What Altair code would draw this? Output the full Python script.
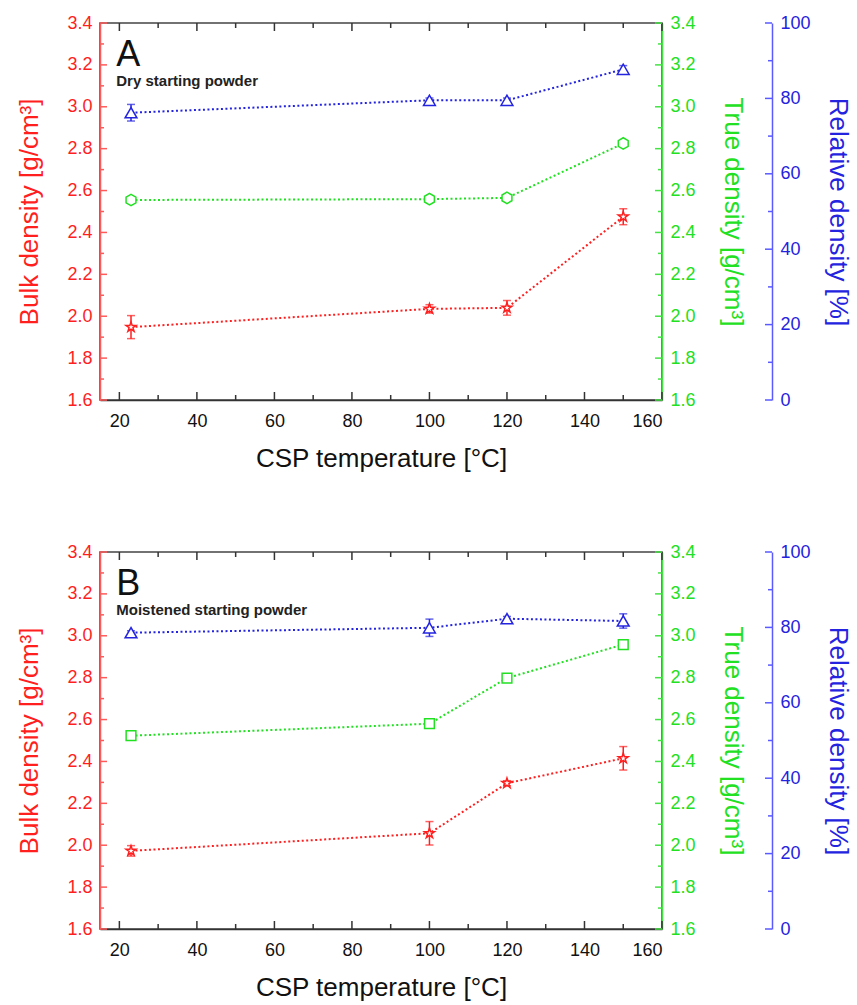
import altair as alt
import pandas as pd

# CSP sintering temperatures [°C]
temps = [23, 100, 120, 150]

# Panel A: dry starting powder
a_bulk = [1.948, 2.035, 2.04, 2.475]
a_bulk_err = [0.055, 0.02, 0.035, 0.038]
a_true = [2.555, 2.559, 2.565, 2.825]
a_rel = [76.2, 79.5, 79.5, 87.7]
a_rel_err = [2.2, 0.6, 0.6, 1.0]

# Panel B: moistened starting powder
b_bulk = [1.973, 2.057, 2.296, 2.415]
b_bulk_err = [0.025, 0.056, 0.012, 0.056]
b_true = [2.523, 2.58, 2.798, 2.958]
b_rel = [78.6, 79.9, 82.3, 81.7]
b_rel_err = [0.5, 2.3, 0.6, 1.9]

# Axis tick positions
x_major = [20, 40, 60, 80, 100, 120, 140, 160]
x_minor = [30, 50, 70, 90, 110, 130, 150]
dens_major = [1.6, 1.8, 2.0, 2.2, 2.4, 2.6, 2.8, 3.0, 3.2, 3.4]
dens_minor = [1.7, 1.9, 2.1, 2.3, 2.5, 2.7, 2.9, 3.1, 3.3]
rel_major = [0, 20, 40, 60, 80, 100]
rel_minor = [10, 30, 50, 70, 90]

W, H = 562, 377
FONT = "Liberation Sans"
RED, RED_AX = "#ff1f1f", "#ff5a5a"
GREEN, GREEN_AX = "#22e022", "#44e444"
BLUE, BLUE_AX = "#2323e0", "#5a5aff"
MAJ, MIN = 7, 4
BLUE_OFFSET = 110
TITLE_SIZE = 26

STAR = ("M0,-1L0.2245,-0.309L0.951,-0.309L0.363,0.118L0.588,0.809L0,0.382"
        "L-0.588,0.809L-0.363,0.118L-0.951,-0.309L-0.2245,-0.309Z")
HEXAGON = "M0,-1L0.866,-0.5L0.866,0.5L0,1L-0.866,0.5L-0.866,-0.5Z"

x_scale = alt.Scale(domain=[15, 160], nice=False, zero=False)
dens_scale = alt.Scale(domain=[1.6, 3.4], nice=False, zero=False)
rel_scale = alt.Scale(domain=[0, 100], nice=False, zero=False)

x_axis = alt.Axis(values=x_major, ticks=False, grid=False, labelFontSize=18,
                  labelColor="#111111", labelPadding=12, domainColor="#333333",
                  domainWidth=1.5, title="CSP temperature [°C]", titleFontSize=TITLE_SIZE,
                  titleFontWeight="normal", titleColor="#111111", titlePadding=15)


def y_axis(orient, color, axis_color, title, values, fmt, offset=0, title_pad=12):
    return alt.Axis(orient=orient, values=values, format=fmt, ticks=False, grid=False,
                    offset=offset, domainColor=axis_color, domainWidth=1.5,
                    labelColor=color, labelFontSize=18, labelPadding=8,
                    title=title, titleColor=color, titleFontSize=TITLE_SIZE,
                    titleFontWeight="normal", titlePadding=title_pad)


def X(field):
    return alt.X(field, scale=x_scale, axis=x_axis)


def tick_rules(values, channel, length, color, scale, axis, side):
    """Inward-pointing axis ticks drawn as short rules."""
    df = pd.DataFrame({"v": values})
    base = alt.Chart(df).mark_rule(color=color, strokeWidth=1.5)
    if channel == "x":
        enc = dict(x=X("v:Q"))
        if side == "bottom":
            enc.update(y=alt.value(H - length), y2=alt.value(H))
        else:
            enc.update(y=alt.value(0), y2=alt.value(length))
    else:
        enc = dict(y=alt.Y("v:Q", scale=scale, axis=axis))
        if side == "left":
            enc.update(x=alt.value(0), x2=alt.value(length))
        elif side == "right":
            enc.update(x=alt.value(W - length), x2=alt.value(W))
        else:
            enc.update(x=alt.value(W + BLUE_OFFSET - length), x2=alt.value(W + BLUE_OFFSET))
    return base.encode(**enc)


def series(df, col, color, shape, size, scale, axis, err=False):
    base = alt.Chart(df)
    line = base.mark_line(color=color, strokeDash=[2, 2.5], strokeWidth=2).encode(
        x=X("T:Q"), y=alt.Y(f"{col}:Q", scale=scale, axis=axis))
    layers = [line]
    if err:
        lo, hi = f"{col}_lo", f"{col}_hi"
        layers.append(base.mark_rule(color=color, strokeWidth=1.5).encode(
            x=X("T:Q"), y=alt.Y(f"{lo}:Q", scale=scale, axis=axis), y2=f"{hi}:Q"))
        for c in (lo, hi):
            layers.append(base.mark_tick(color=color, orient="horizontal", size=8,
                                         thickness=1.5).encode(
                x=X("T:Q"), y=alt.Y(f"{c}:Q", scale=scale, axis=axis)))
    layers.append(base.mark_point(shape=shape, size=size, filled=False, color=color,
                                  fill="white", strokeWidth=1.5, opacity=1).encode(
        x=X("T:Q"), y=alt.Y(f"{col}:Q", scale=scale, axis=axis)))
    return layers


def panel(letter, caption, bulk, bulk_err, true, true_shape, true_size, rel, rel_err):
    df = pd.DataFrame({"T": temps, "bulk": bulk, "true": true, "rel": rel})
    df["bulk_lo"] = [v - e for v, e in zip(bulk, bulk_err)]
    df["bulk_hi"] = [v + e for v, e in zip(bulk, bulk_err)]
    df["rel_lo"] = [v - e for v, e in zip(rel, rel_err)]
    df["rel_hi"] = [v + e for v, e in zip(rel, rel_err)]

    red_axis = y_axis("left", RED, RED_AX, "Bulk density [g/cm³]", dens_major, ".1f",
                      title_pad=24)
    green_axis = y_axis("right", GREEN, GREEN_AX, "True density [g/cm³]", dens_major,
                        ".1f", title_pad=24)
    blue_axis = y_axis("right", BLUE, BLUE_AX, "Relative density [%]", rel_major, "d",
                       offset=BLUE_OFFSET, title_pad=14)

    x_ticks = [tick_rules(x_major, "x", 8, "#333333", None, None, s) for s in ("bottom", "top")]
    x_ticks += [tick_rules(x_minor, "x", 5, "#333333", None, None, s) for s in ("bottom", "top")]

    notes = pd.DataFrame({"T": [19.2], "y1": [3.195], "y2": [3.1],
                          "letter": [letter], "caption": [caption]})
    letter_txt = alt.Chart(notes).mark_text(align="left", baseline="alphabetic",
                                            fontSize=36, font=FONT, color="#111111").encode(
        x=X("T:Q"), y=alt.Y("y1:Q", scale=dens_scale, axis=red_axis), text="letter:N")
    caption_txt = alt.Chart(notes).mark_text(align="left", baseline="alphabetic",
                                             fontSize=15, fontWeight="bold", font=FONT,
                                             color="#222222").encode(
        x=X("T:Q"), y=alt.Y("y2:Q", scale=dens_scale, axis=red_axis), text="caption:N")

    red = alt.layer(
        *series(df, "bulk", RED, STAR, 110, dens_scale, red_axis, err=True),
        tick_rules(dens_major, "y", MAJ, RED_AX, dens_scale, red_axis, "left"),
        tick_rules(dens_minor, "y", MIN, RED_AX, dens_scale, red_axis, "left"),
        letter_txt, caption_txt, *x_ticks,
    )
    green = alt.layer(
        *series(df, "true", GREEN, true_shape, true_size, dens_scale, green_axis),
        tick_rules(dens_major, "y", MAJ, GREEN_AX, dens_scale, green_axis, "right"),
        tick_rules(dens_minor, "y", MIN, GREEN_AX, dens_scale, green_axis, "right"),
    )
    blue = alt.layer(
        *series(df, "rel", BLUE, "triangle-up", 140, rel_scale, blue_axis, err=True),
        tick_rules(rel_major, "y", MAJ, BLUE_AX, rel_scale, blue_axis, "far"),
        tick_rules(rel_minor, "y", MIN, BLUE_AX, rel_scale, blue_axis, "far"),
    )
    return alt.layer(red, green, blue).resolve_scale(y="independent").properties(
        width=W, height=H)


top = panel("A", "Dry starting powder", a_bulk, a_bulk_err, a_true, HEXAGON, 130,
            a_rel, a_rel_err)
bottom = panel("B", "Moistened starting powder", b_bulk, b_bulk_err, b_true, "square", 95,
               b_rel, b_rel_err)

chart = alt.vconcat(top, bottom, spacing=70).properties(
    padding={"left": 16, "top": 13, "right": 5, "bottom": 5}
).configure(font=FONT).configure_view(
    stroke="#444444", strokeWidth=1.5
).configure_axis(labelFont=FONT, titleFont=FONT)

chart.save("out.html", embed_options={"renderer": "svg", "actions": False})
